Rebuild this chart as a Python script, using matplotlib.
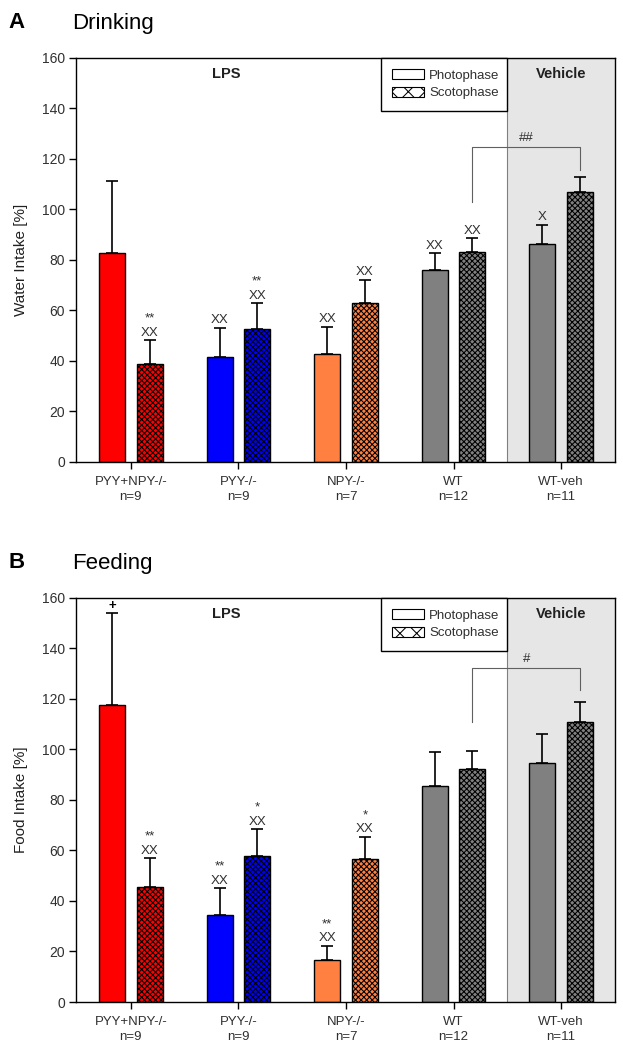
import numpy as np
import matplotlib.pyplot as plt
from matplotlib.patches import Patch

plt.rcParams['font.family'] = ['Liberation Sans', 'DejaVu Sans']
plt.rcParams['hatch.linewidth'] = 0.75

groups = ['PYY+NPY-/-\nn=9', 'PYY-/-\nn=9', 'NPY-/-\nn=7', 'WT\nn=12', 'WT-veh\nn=11']
bar_colors = ['#ff0000', '#0000ff', '#ff8040', '#808080', '#808080']

# A - drinking
drink_photo = [82.8, 41.7, 42.6, 76.0, 86.3]
drink_photo_sem = [28.5, 11.5, 11.0, 6.6, 7.6]
drink_scoto = [38.7, 52.7, 63.1, 83.2, 106.9]
drink_scoto_sem = [9.6, 10.1, 9.1, 5.5, 6.0]
drink_photo_marks = ['', 'XX', 'XX', 'XX', 'X']
drink_scoto_marks = ['**\nXX', '**\nXX', 'XX', 'XX', '']
drink_bracket = [124.8, 103.0, 115.6]   # level, left end, right end
drink_bracket_txt = '##'

# B - feeding
feed_photo = [117.5, 34.4, 16.6, 85.6, 94.5]
feed_photo_sem = [36.3, 10.8, 5.7, 13.4, 11.5]
feed_scoto = [45.6, 57.9, 56.5, 92.2, 110.9]
feed_scoto_sem = [11.3, 10.4, 8.9, 7.1, 7.9]
feed_photo_marks = ['+', '**\nXX', '**\nXX', '', '']
feed_scoto_marks = ['**\nXX', '*\nXX', '*\nXX', '', '']
feed_bracket = [132.0, 110.9, 123.5]
feed_bracket_txt = '#'

txtcol = '#303030'
off = 0.175
w = 0.24


def panel(ax, photo, psem, scoto, ssem, pmarks, smarks, bracket, btxt, ylab):
    x = np.arange(len(groups))
    ax.axvspan(3.5, 4.6, facecolor='#e6e6e6', edgecolor='#808080', lw=0.8, zorder=0)
    ax.bar(x - off, photo, w, color=bar_colors, edgecolor='black', lw=1, zorder=2)
    ax.bar(x + off, scoto, w, color=bar_colors, edgecolor='black', lw=1,
           hatch='xxxxxx', zorder=2)
    ax.errorbar(x - off, photo, yerr=[np.zeros(len(x)), psem], fmt='none',
                ecolor='black', elinewidth=1.2, capsize=4.5, capthick=1.2, zorder=3)
    ax.errorbar(x + off, scoto, yerr=[np.zeros(len(x)), ssem], fmt='none',
                ecolor='black', elinewidth=1.2, capsize=4.5, capthick=1.2, zorder=3)

    for i in range(len(x)):
        if pmarks[i]:
            ax.text(x[i] - off, photo[i] + psem[i] + 0.5, pmarks[i], ha='center',
                    va='bottom', fontsize=9.5, linespacing=1.25,
                    color='black' if pmarks[i] == '+' else txtcol,
                    weight='bold' if pmarks[i] == '+' else 'normal')
        if smarks[i]:
            ax.text(x[i] + off, scoto[i] + ssem[i] + 0.5, smarks[i], ha='center',
                    va='bottom', fontsize=9.5, linespacing=1.25, color=txtcol)

    xl, xr = 3 + off, 4 + off
    ax.plot([xl, xl, xr, xr], [bracket[1], bracket[0], bracket[0], bracket[2]],
            color='#606060', lw=0.8, zorder=3)
    ax.text((xl + xr) / 2, bracket[0] + 1.2, btxt, ha='center', va='bottom',
            fontsize=9.5, color=txtcol)

    ax.text(0.278, 0.96, 'LPS', transform=ax.transAxes, ha='center', va='center',
            fontsize=10.5, weight='bold', color='#202020')
    ax.text(4.0, 0.96, 'Vehicle', transform=ax.get_xaxis_transform(), ha='center',
            va='center', fontsize=10.5, weight='bold', color='#202020')

    handles = [Patch(facecolor='white', edgecolor='black', lw=0.8, label='Photophase'),
               Patch(facecolor='white', edgecolor='black', lw=0.8, hatch='xx',
                     label='Scotophase')]
    leg = ax.legend(handles=handles, loc='upper left', bbox_to_anchor=(0.566, 0, 0.234, 1.0),
                    mode='expand', fancybox=False, edgecolor='black', framealpha=1,
                    borderaxespad=0, fontsize=9.5, handlelength=2.4, handleheight=0.8,
                    labelspacing=0.4, borderpad=0.85, handletextpad=0.4,
                    labelcolor=txtcol)
    leg.get_frame().set_linewidth(1.0)

    ax.set_xlim(-0.51, 4.5)
    ax.set_ylim(0, 160)
    ax.set_yticks(np.arange(0, 161, 20))
    ax.set_xticks(x)
    ax.set_xticklabels(groups, linespacing=1.35)
    ax.tick_params(direction='out', length=5, width=1, labelsize=10,
                   labelcolor=txtcol, pad=3)
    ax.tick_params(axis='x', labelsize=9.5, pad=5)
    for s in ax.spines.values():
        s.set_linewidth(1.0)
    ax.set_ylabel(ylab, fontsize=11, color='#202020')
    ax.yaxis.set_label_coords(-0.09, 0.5)


fig = plt.figure(figsize=(6.23, 10.49), dpi=100)
axA = fig.add_axes([0.122, 0.5596, 0.865, 0.3854])
axB = fig.add_axes([0.122, 0.0448, 0.865, 0.3854])

panel(axA, drink_photo, drink_photo_sem, drink_scoto, drink_scoto_sem,
      drink_photo_marks, drink_scoto_marks, drink_bracket, drink_bracket_txt,
      'Water Intake [%]')
panel(axB, feed_photo, feed_photo_sem, feed_scoto, feed_scoto_sem,
      feed_photo_marks, feed_scoto_marks, feed_bracket, feed_bracket_txt,
      'Food Intake [%]')

fig.text(8 / 623, 1 - 23 / 1049, 'A', fontsize=16, weight='bold', va='center')
fig.text(72 / 623, 1 - 23 / 1049, 'Drinking', fontsize=16, va='center')
fig.text(8 / 623, 1 - 563 / 1049, 'B', fontsize=16, weight='bold', va='center')
fig.text(72 / 623, 1 - 563 / 1049, 'Feeding', fontsize=16, va='center')

fig.savefig('out.png', dpi=100)
